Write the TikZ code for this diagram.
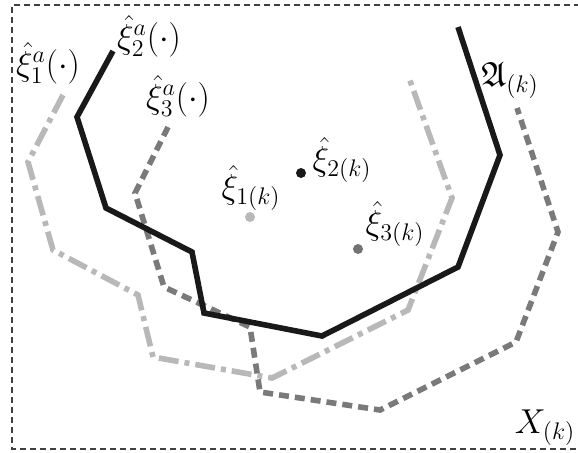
\documentclass[tikz,border=0pt]{standalone}
\usepackage{amssymb}
\begin{document}
\begin{tikzpicture}[x=0.5pt,y=-0.5pt,
  framestyle/.style={draw=black!75,line width=0.6pt,dash pattern=on 3pt off 2pt},
  curveA/.style={draw=black!90,line width=2.8pt,line join=miter},
  curveB/.style={draw=black!28,line width=2.8pt,dash pattern=on 10pt off 3pt on 2.5pt off 3pt},
  curveC/.style={draw=black!52,line width=2.8pt,dash pattern=on 5pt off 3pt},
  lab/.style={inner sep=0pt,font=\fontsize{17.5}{21}\selectfont},
  pt/.style={circle,inner sep=0pt,minimum size=5pt}]
\useasboundingbox (0,0) rectangle (578,452);
% frame
\draw[framestyle] (590,5) -- (12,5) -- (12,449) -- (590,449);
% light gray dash-dot (xi_1)
\draw[curveB] (63,95) -- (28,162) -- (53,250) -- (138,295) -- (153,357) -- (272,378) -- (408,310) -- (452,198) -- (408,75);
% dark gray dashed (xi_3)
\draw[curveC] (168,127) -- (135,193) -- (164,287) -- (250,327) -- (260,392) -- (380,410) -- (516,342) -- (558,232) -- (517,108);
% black (A)
\draw[curveA] (113,51) -- (77,117) -- (106,208) -- (192,252) -- (204,313) -- (322,336) -- (458,267) -- (500,155) -- (458,27);
% points
\node[pt,fill=black!28] (p1) at (250,217) {};
\node[pt,fill=black!90] (p2) at (301,173) {};
\node[pt,fill=black!55] (p3) at (358,249) {};
% labels
\node[lab] (l1) at (48,63) {$\hat{\xi}^{a}_{1}(\cdot)$};
\node[lab] (l2) at (149,36) {$\hat{\xi}^{a}_{2}(\cdot)$};
\node[lab] (l3) at (178,96) {$\hat{\xi}^{a}_{3}(\cdot)$};
\node[lab] (k1) at (251,188) {$\hat{\xi}_{1(k)}$};
\node[lab] (k2) at (342,160) {$\hat{\xi}_{2(k)}$};
\node[lab] (k3) at (395,224) {$\hat{\xi}_{3(k)}$};
\node[lab] (A) at (510,80) {$\mathfrak{A}_{(k)}$};
\node[lab] (X) at (545,428) {$X_{(k)}$};
\end{tikzpicture}
\end{document}
